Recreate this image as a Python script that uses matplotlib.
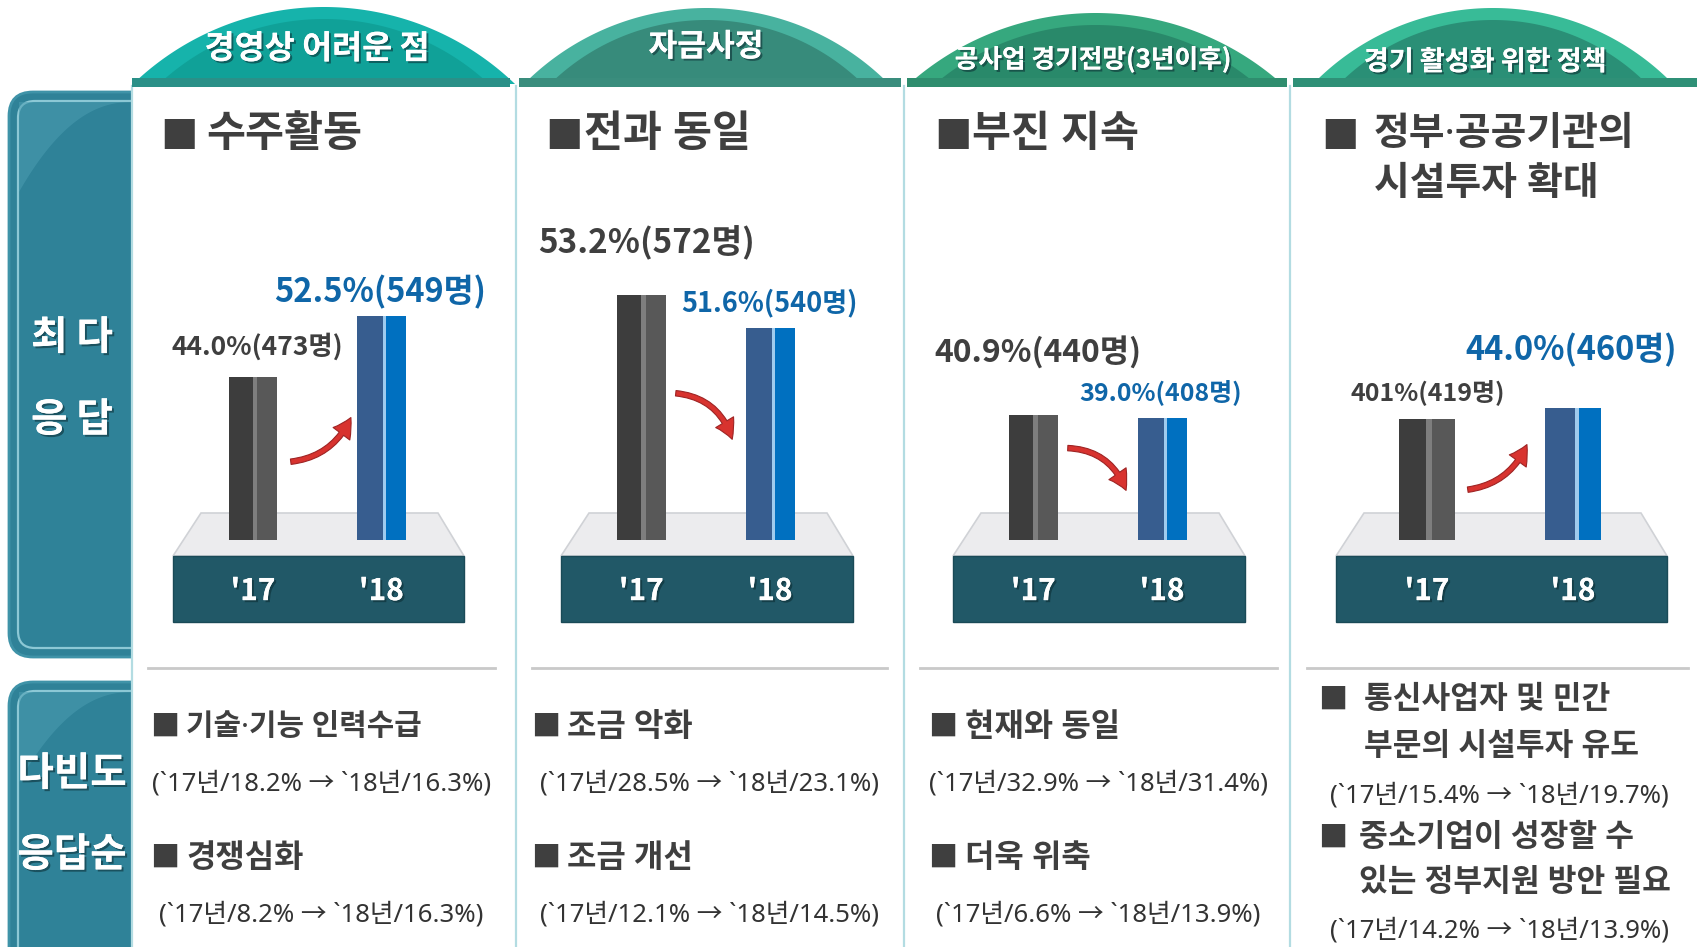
import matplotlib
matplotlib.use('Agg')
import matplotlib.pyplot as plt
import numpy as np
from matplotlib.patches import Polygon, Rectangle, FancyBboxPatch, FancyArrowPatch
import matplotlib.patheffects as pe

plt.rcParams['font.family'] = ['Noto Sans CJK KR', 'DejaVu Sans']
MIX = ['Noto Sans', 'Noto Sans CJK KR', 'DejaVu Sans']

# ---------------- data ----------------
headers = ['경영상 어려운 점', '자금사정', '공사업 경기전망(3년이후)', '경기 활성화 위한 정책']
top_answers = [['수주활동'], ['전과 동일'], ['부진 지속'], ['정부·공공기관의', '시설투자 확대']]
years = ["'17", "'18"]
pct17 = [44.0, 53.2, 40.9, 40.1]
pct18 = [52.5, 51.6, 39.0, 44.0]
labels17 = ['44.0%(473명)', '53.2%(572명)', '40.9%(440명)', '401%(419명)']
labels18 = ['52.5%(549명)', '51.6%(540명)', '39.0%(408명)', '44.0%(460명)']
side_top = ['최 다', '응 답']
side_bottom = ['다빈도', '응답순']
second_names = [
    [['기술·기능 인력수급'], ['경쟁심화']],
    [['조금 악화'], ['조금 개선']],
    [['현재와 동일'], ['더욱 위축']],
    [['통신사업자 및 민간', '부문의 시설투자 유도'], ['중소기업이 성장할 수', '있는 정부지원 방안 필요']],
]
second_17 = [[18.2, 8.2], [28.5, 12.1], [32.9, 6.6], [15.4, 14.2]]
second_18 = [[16.3, 16.3], [23.1, 14.5], [31.4, 13.9], [19.7, 13.9]]

# ---------------- layout / style ----------------
W, H = 1697, 947
fig = plt.figure(figsize=(W / 100, H / 100), dpi=100)
bg = fig.add_axes([0, 0, 1, 1])
bg.set_xlim(0, W)
bg.set_ylim(H, 0)
bg.axis('off')

panel_x = [132, 516, 904, 1290, 1697]
dome_x = [(133, 515), (524, 889), (909, 1282), (1313, 1673)]
dome_top = [7, 8, 13, 8]
dome_outer = ['#16b3ab', '#48b29f', '#36a87e', '#38bb97']
dome_inner = ['#10a198', '#378b7b', '#29896a', '#2a8f76']
band_col = ['#2a9088', '#3a8d7d', '#2f8d6e', '#2f9077']
head_xy = [(317, 49), (706, 47), (1093, 60), (1485, 62)]
head_fs = [23.5, 22.5, 18.5, 19.5]
box_x = [(173, 464), (561, 853), (953, 1245), (1336, 1667)]
xpos = [0.275, 0.716]
bw = 0.168
ylims = [(21.3, 63.1), (41.3, 55.86), (-38.2, 151.7), (-2.8, 103.6)]
off17 = [(4.5, 30), (5.5, 52), (4.5, 63), (0.5, 26)]
off18 = [(-1, 24), (-1, 25), (-1, 25), (-1.5, 58)]
fs17 = [19, 24, 23, 18]
fs18 = [23.5, 19.5, 18, 23.5]
title_sq_x = [160, 545, 934, 1321]
title_tx_x = [206, 584, 972, 1374]
title_fs = [30.5, 30.5, 30.5, 28]
arrows = [((288, 462), (352, 415), 0.3), ((673, 393), (733, 442), -0.35),
          ((1065, 448), (1127, 493), -0.35), ((1465, 490), (1528, 442), 0.3)]
div_x = [(148, 495), (532, 887), (920, 1277), (1307, 1688)]

DARK = '#3f3f3f'
BLUE = '#0f66a8'
shadow = [pe.withSimplePatchShadow(offset=(1.5, -1.5), shadow_rgbFace='#0a2a30', alpha=0.55), pe.Normal()]

# ---------------- sidebar ----------------
for (y0, y1) in [(92, 657), (682, 980)]:
    bg.add_patch(FancyBboxPatch((9, y0), 170, y1 - y0, boxstyle='round,pad=0,rounding_size=24',
                                fc='#2f8298', ec='#3f93a8', lw=2, zorder=1))
    bg.add_patch(FancyBboxPatch((18, y0 + 9), 160, y1 - y0 - 18, boxstyle='round,pad=0,rounding_size=17',
                                fc='none', ec='#8cc8d5', lw=1.6, zorder=2))
    t = np.linspace(0, 1, 40)
    hx = 19 + (132 - 19) * t
    hy = y0 + 10 + 90 * (1 - t) ** 2.2
    bg.add_patch(Polygon(np.column_stack([np.r_[19, hx, 132], np.r_[y0 + 10, hy, y0 + 10]]),
                         closed=True, fc='#4b9db1', ec='none', alpha=0.55, zorder=2))

for k, s in enumerate(side_top):
    bg.text(72, 338 + k * 82, s, color='white', fontsize=28.5, fontweight='bold', ha='center', va='center',
            path_effects=shadow, zorder=5)
for k, s in enumerate(side_bottom):
    bg.text(72, 774 + k * 81, s, color='white', fontsize=28.5, fontweight='bold', ha='center', va='center',
            path_effects=shadow, zorder=5)

# white panel area
bg.add_patch(Rectangle((132, 84), W - 132, H - 84, fc='white', ec='none', zorder=3))
for x in panel_x[:-1]:
    bg.plot([x, x], [86, H], color='#b3dce2', lw=1.6, zorder=4)

# ---------------- domes ----------------
def dome_poly(x0, x1, top, base):
    w = x1 - x0
    h = base - top
    R = (w * w / 4 + h * h) / (2 * h)
    half = np.arcsin((w / 2) / R)
    t = np.linspace(-half, half, 120)
    cx = (x0 + x1) / 2
    return np.column_stack([cx + R * np.sin(t), top + R - R * np.cos(t)])

for i in range(4):
    x0, x1 = dome_x[i]
    bg.add_patch(Polygon(dome_poly(x0, x1, dome_top[i], 84), closed=True, fc=dome_outer[i], ec='none', zorder=4))
    bg.add_patch(Polygon(dome_poly(x0 + 26, x1 - 26, dome_top[i] + 12, 84), closed=True, fc=dome_inner[i],
                         ec='none', zorder=4))
    bg.add_patch(Rectangle((panel_x[i] + (3 if i else 0), 78), panel_x[i + 1] - panel_x[i] - (6 if i < 3 else 3), 9,
                           fc=band_col[i], ec='none', zorder=5))
    bg.text(head_xy[i][0], head_xy[i][1], headers[i], color='white', fontsize=head_fs[i], fontweight='bold',
            ha='center', va='center', path_effects=shadow, zorder=6)

# ---------------- titles ----------------
for i in range(4):
    bg.text(title_sq_x[i], 137, '■', color=DARK, fontsize=27, ha='left', va='center', zorder=6)
    for k, line in enumerate(top_answers[i]):
        bg.text(title_tx_x[i], 135 + k * 50, line, color=DARK, fontsize=title_fs[i], fontweight='bold',
                family=MIX, ha='left', va='center', zorder=6)

# ---------------- pedestals ----------------
for i in range(4):
    l, r = box_x[i]
    bg.add_patch(Polygon([(l + 28, 513), (r - 26, 513), (r, 556), (l, 556)], closed=True,
                         fc='#ececee', ec='#d0d2d6', lw=1.2, zorder=4))
    bg.add_patch(Rectangle((l, 556), r - l, 66, fc='#215867', ec='#1a4a57', lw=1, zorder=4))

# ---------------- bars ----------------
for i in range(4):
    l, r = box_x[i]
    ax = fig.add_axes([l / W, 1 - 540 / H, (r - l) / W, 300 / H])
    ax.set_xlim(0, 1)
    ax.set_ylim(*ylims[i])
    ax.patch.set_alpha(0)
    for s in ax.spines.values():
        s.set_visible(False)
    base = ylims[i][0]
    v17, v18 = pct17[i], pct18[i]
    # '17 bar (dark, with lighter right half)
    ax.bar(xpos[0], v17 - base, bottom=base, width=bw, color='#3d3d3d', zorder=2)
    ax.bar(xpos[0] + bw * 0.25, v17 - base, bottom=base, width=bw * 0.5, color='#585858', zorder=3)
    ax.bar(xpos[0] + bw * 0.04, v17 - base, bottom=base, width=bw * 0.1, color='#7e7e7e', zorder=4)
    # '18 bar (blue, two tones)
    ax.bar(xpos[1], v18 - base, bottom=base, width=bw, color='#375d8f', zorder=2)
    ax.bar(xpos[1] + bw * 0.3, v18 - base, bottom=base, width=bw * 0.4, color='#0070c0', zorder=3)
    ax.bar(xpos[1] + bw * 0.07, v18 - base, bottom=base, width=bw * 0.06, color='#9fcbee', zorder=4)
    ax.set_yticks([])
    ax.set_xticks(xpos, years)
    ax.tick_params(axis='x', length=0, pad=26, labelsize=21.5, labelcolor='white')
    for lbl in ax.get_xticklabels():
        lbl.set_fontweight('bold')
        lbl.set_path_effects(shadow)
    ax.annotate(labels17[i], xy=(xpos[0], v17), xytext=off17[i], textcoords='offset pixels',
                ha='center', va='center', fontsize=fs17[i], fontweight='bold', color=DARK, annotation_clip=False)
    ax.annotate(labels18[i], xy=(xpos[1], v18), xytext=off18[i], textcoords='offset pixels',
                ha='center', va='center', fontsize=fs18[i], fontweight='bold', color=BLUE, annotation_clip=False)

# ---------------- arrows ----------------
for (a, b, rad) in arrows:
    bg.add_patch(FancyArrowPatch(a, b, connectionstyle=f'arc3,rad={rad}',
                                 arrowstyle='simple,head_length=0.9,head_width=1.0,tail_width=0.26',
                                 mutation_scale=15, fc='#d8332f', ec='#9e2424', lw=0.8, zorder=6))

# ---------------- lower section ----------------
for i in range(4):
    x0, x1 = div_x[i]
    bg.plot([x0, x1], [668, 668], color='#c9c9c9', lw=2, zorder=5)

def detail(a, b):
    return f"(`17년/{a}% → `18년/{b}%)"

item_sq = [150, 531, 928]
item_tx = [186, 567, 965]
item_fs = [[21.5, 23], [23, 23], [23, 23]]
for i in range(3):
    cx = (div_x[i][0] + div_x[i][1]) / 2
    for k in range(2):
        y = 727 + k * 131
        bg.text(item_sq[i], y + 1, '■', color=DARK, fontsize=21, ha='left', va='center', zorder=6)
        bg.text(item_tx[i], y, second_names[i][k][0], color=DARK, fontsize=item_fs[i][k], fontweight='bold',
                family=MIX, ha='left', va='center', zorder=6)
        bg.text(cx, y + 57, detail(second_17[i][k], second_18[i][k]), color='#333333', fontsize=18.5,
                fontweight='medium', family=MIX, ha='center', va='center', zorder=6)

# fourth panel (two-line items)
p4_y = [(700, 747, 796), (838, 883, 931)]
p4_tx = [1364, 1359]
for k in range(2):
    y1, y2, y3 = p4_y[k]
    bg.text(1318, y1 + 1, '■', color=DARK, fontsize=21, ha='left', va='center', zorder=6)
    for j, line in enumerate(second_names[3][k]):
        bg.text(p4_tx[k], (y1, y2)[j], line, color=DARK, fontsize=22.5, fontweight='bold',
                family=MIX, ha='left', va='center', zorder=6)
    bg.text(1499, y3, detail(second_17[3][k], second_18[3][k]), color='#333333', fontsize=18.5,
            fontweight='medium', family=MIX, ha='center', va='center', zorder=6)

fig.savefig('out.png', dpi=100)
